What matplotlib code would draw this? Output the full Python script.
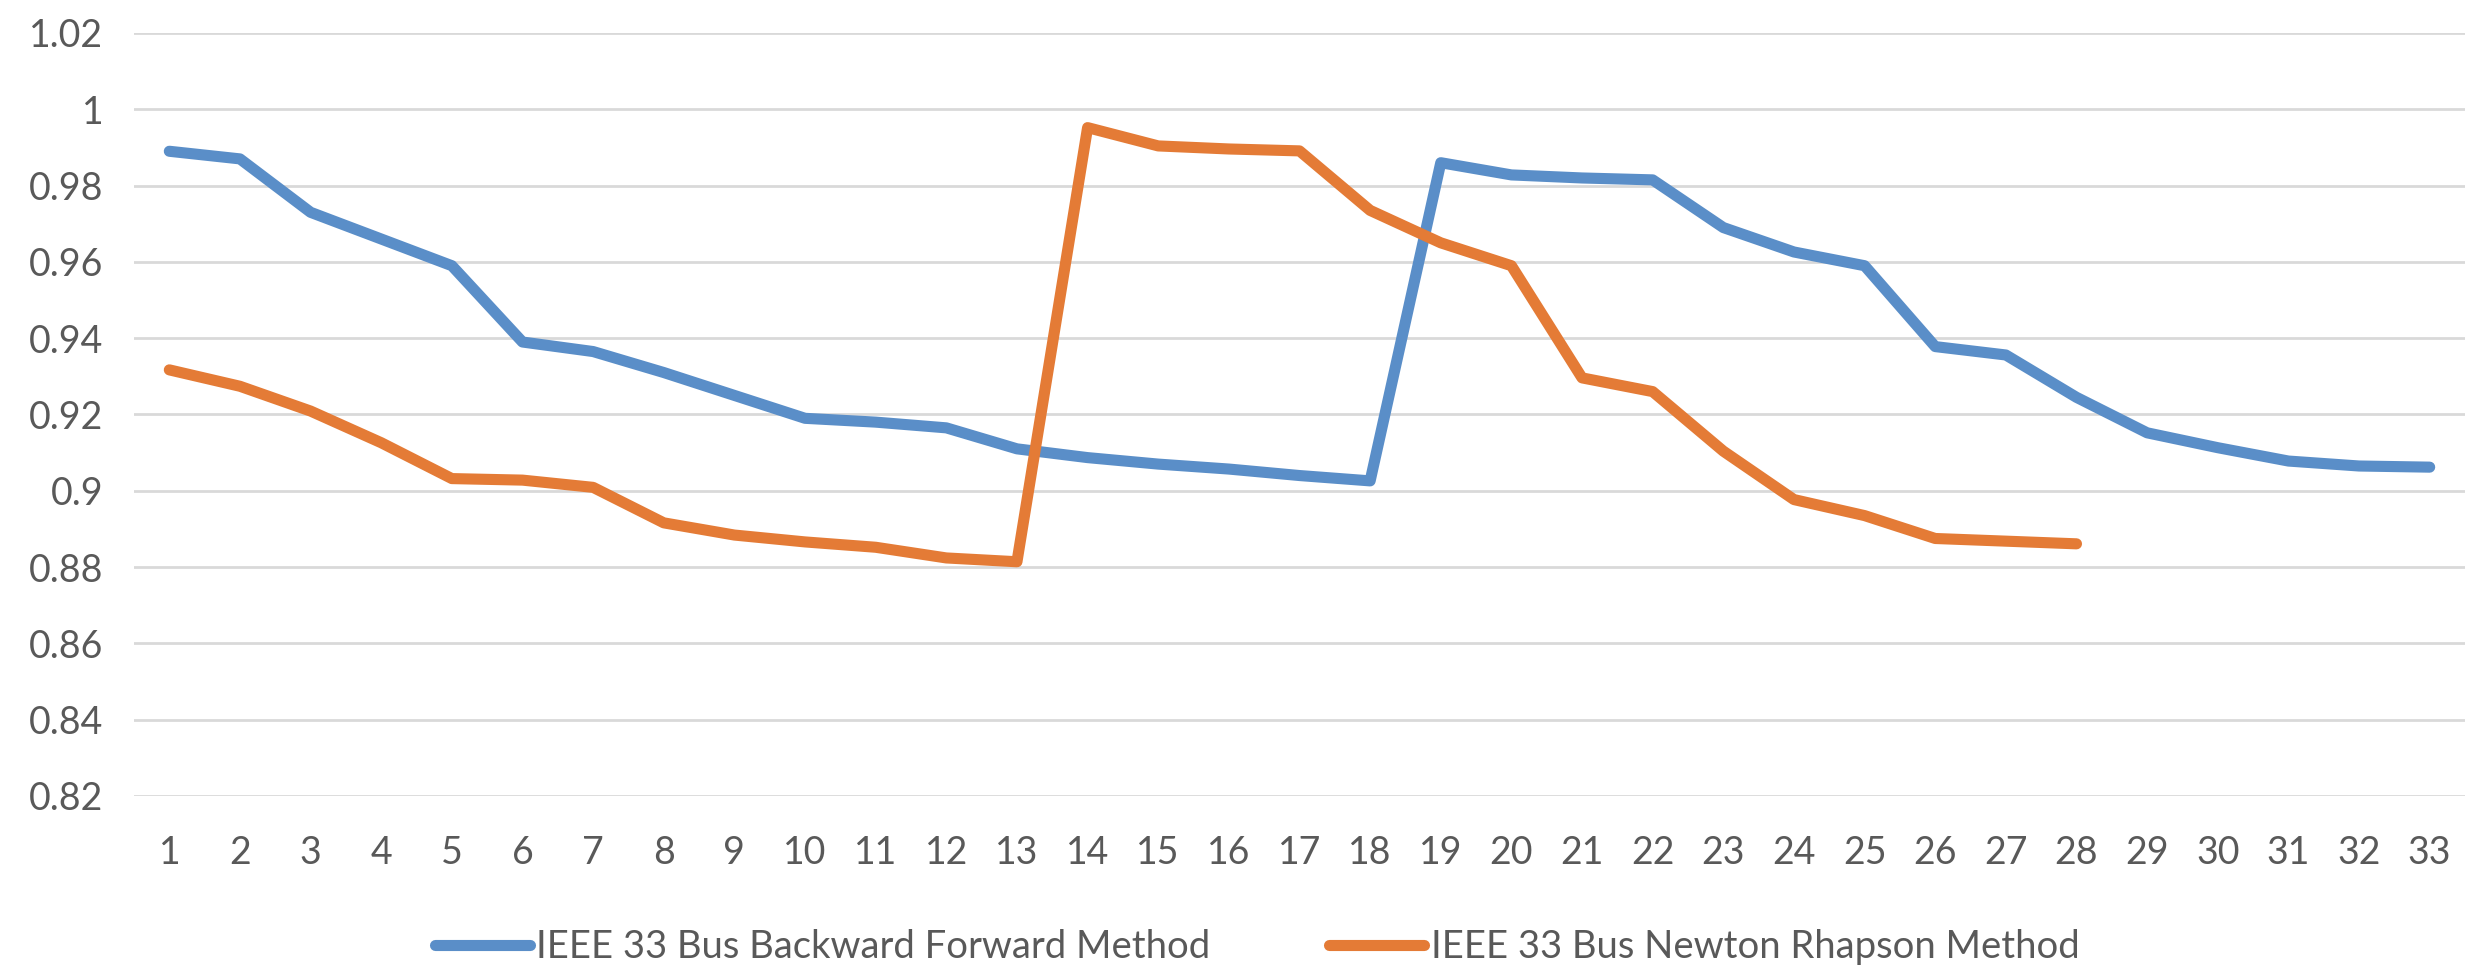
import numpy as np
import matplotlib
matplotlib.use("Agg")
import matplotlib.pyplot as plt

# Bus voltage profile (p.u.) for the IEEE 33 bus system
buses = list(range(1, 34))
backward_forward = [0.989, 0.987, 0.973, 0.966, 0.959, 0.939, 0.9365, 0.931, 0.925, 0.919,
                    0.918, 0.9165, 0.911, 0.9087, 0.907, 0.9057, 0.904, 0.9026, 0.986, 0.9828,
                    0.982, 0.9815, 0.969, 0.9626, 0.959, 0.9378, 0.9356, 0.9245, 0.9152, 0.9113,
                    0.9078, 0.9065, 0.9062]
newton_raphson = [0.9317, 0.9274, 0.9209, 0.9126, 0.9032, 0.9028, 0.9009, 0.8916, 0.8884, 0.8866,
                  0.8852, 0.8824, 0.8814, 0.9952, 0.9904, 0.9896, 0.9891, 0.9735, 0.965, 0.959,
                  0.9296, 0.926, 0.9104, 0.8977, 0.8935, 0.8875, 0.8868, 0.8861]
y_ticks = [0.82, 0.84, 0.86, 0.88, 0.9, 0.92, 0.94, 0.96, 0.98, 1, 1.02]
y_tick_labels = ["0.82", "0.84", "0.86", "0.88", "0.9", "0.92", "0.94", "0.96", "0.98", "1", "1.02"]
labels = ["IEEE 33 Bus Backward Forward Method", "IEEE 33 Bus Newton Rhapson Method"]

blue = "#5A8EC8"
orange = "#E47B36"
text_grey = "#595959"

plt.rcParams["font.family"] = ["Lato", "DejaVu Sans"]

W, H = 2476, 975
fig = plt.figure(figsize=(W / 100, H / 100), dpi=100)
ax = fig.add_axes([134 / W, 1 - 796 / H, (2465 - 134) / W, (796 - 33) / H])

ax.plot(buses, backward_forward, color=blue, lw=8, solid_joinstyle="round",
        solid_capstyle="round", label=labels[0], zorder=3)
ax.plot(buses[:len(newton_raphson)], newton_raphson, color=orange, lw=8,
        solid_joinstyle="round", solid_capstyle="round", label=labels[1], zorder=3)

ax.set_xlim(0.5, 33.5)
ax.set_ylim(0.82, 1.02)
ax.set_xticks(buses)
ax.set_xticklabels([str(b) for b in buses])
ax.set_yticks(y_ticks)
ax.set_yticklabels(y_tick_labels)

ax.grid(axis="y", color="#D9D9D9", lw=2.0)
ax.set_axisbelow(True)
for side in ["top", "right", "left", "bottom"]:
    ax.spines[side].set_visible(False)
ax.tick_params(axis="both", length=0, labelsize=27, colors=text_grey)
ax.tick_params(axis="y", pad=22)
ax.tick_params(axis="x", pad=28)

fig.legend(loc="center", bbox_to_anchor=(1257 / W, 1 - 947 / H), ncol=2, frameon=False,
           fontsize=27.5, labelcolor=text_grey, handlelength=2.5, handletextpad=0.16,
           columnspacing=3.1)

fig.savefig("out.png", dpi=100, facecolor="white")
